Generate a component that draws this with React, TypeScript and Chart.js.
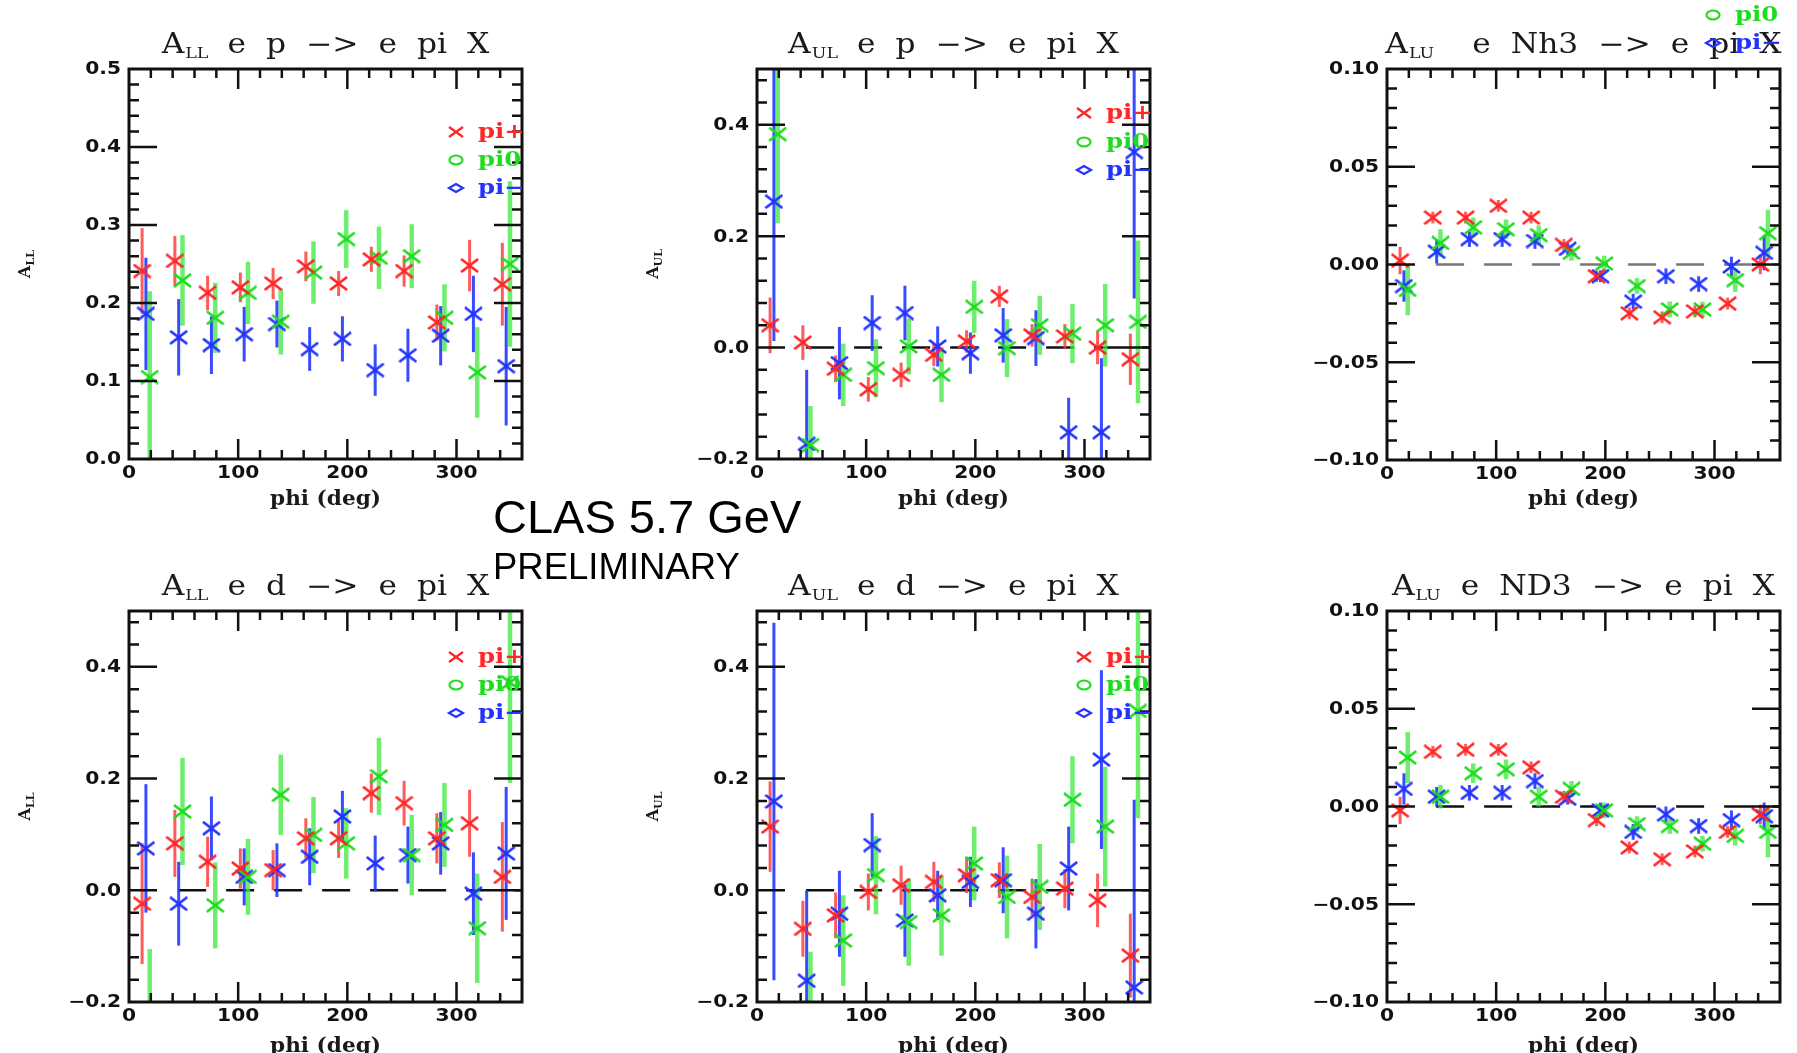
import React, { useEffect, useRef } from "react";
import { Chart, registerables } from "chart.js";

Chart.register(...registerables);

// ---------------- data ----------------
// phi positions (deg) of the three pion samples (each slightly offset within a 30-deg bin)
const phiPiPlus = [12, 42, 72, 102, 132, 162, 192, 222, 252, 282, 312, 342];
const phiPiMinus = [15.5, 45.5, 75.5, 105.5, 135.5, 165.5, 195.5, 225.5, 255.5, 285.5, 315.5, 345.5];
const phiPiZero = [19, 49, 79, 109, 139, 169, 199, 229, 259, 289, 319, 349];

const xTickValues = [0, 100, 200, 300];
const yTicksAllEp = [0, 0.1, 0.2, 0.3, 0.4, 0.5];
const yTicksAsym = [-0.2, 0, 0.2, 0.4];
const yTicksAlu = [-0.1, -0.05, 0, 0.05, 0.1];
const legendLabels = ["pi+", "pi0", "pi\u2212"];

// A_LL  e p -> e pi X
const allEpPiPlus = [0.241, 0.254, 0.213, 0.22, 0.225, 0.247, 0.225, 0.256, 0.241, 0.175, 0.248, 0.224];
const allEpPiPlusErr = [0.055, 0.032, 0.022, 0.019, 0.02, 0.019, 0.016, 0.016, 0.02, 0.023, 0.033, 0.053];
const allEpPiZero = [0.105, 0.229, 0.181, 0.213, 0.176, 0.239, 0.282, 0.258, 0.26, 0.181, 0.111, 0.25];
const allEpPiZeroErr = [0.11, 0.058, 0.045, 0.04, 0.042, 0.04, 0.037, 0.04, 0.041, 0.043, 0.058, 0.106];
const allEpPiMinus = [0.186, 0.156, 0.146, 0.16, 0.173, 0.141, 0.154, 0.114, 0.133, 0.158, 0.186, 0.119];
const allEpPiMinusErr = [0.072, 0.049, 0.037, 0.035, 0.03, 0.028, 0.029, 0.033, 0.034, 0.038, 0.049, 0.076];

// A_UL  e p -> e pi X
const aulEpPiPlus = [0.04, 0.009, -0.038, -0.075, -0.049, -0.013, 0.011, 0.092, 0.022, 0.02, 0.0, -0.021];
const aulEpPiPlusErr = [0.05, 0.031, 0.024, 0.022, 0.022, 0.02, 0.02, 0.019, 0.02, 0.022, 0.03, 0.046];
const aulEpPiZero = [0.383, -0.175, -0.049, -0.037, 0.002, -0.049, 0.073, -0.001, 0.04, 0.025, 0.04, 0.046];
const aulEpPiZeroErr = [0.16, 0.07, 0.056, 0.052, 0.05, 0.049, 0.047, 0.052, 0.053, 0.053, 0.074, 0.146];
const aulEpPiMinus = [0.262, -0.173, -0.028, 0.044, 0.062, 0.002, -0.01, 0.022, 0.017, -0.152, -0.152, 0.351];
const aulEpPiMinusErr = [0.25, 0.133, 0.065, 0.05, 0.049, 0.036, 0.037, 0.049, 0.05, 0.062, 0.133, 0.263];

// A_LU  e NH3 -> e pi X
const aluNh3PiPlus = [0.002, 0.024, 0.024, 0.03, 0.024, 0.01, -0.006, -0.025, -0.027, -0.024, -0.02, 0.0];
const aluNh3PiPlusErr = [0.007, 0.003, 0.003, 0.003, 0.003, 0.003, 0.003, 0.003, 0.003, 0.003, 0.003, 0.005];
const aluNh3PiZero = [-0.013, 0.011, 0.019, 0.018, 0.015, 0.006, 0.0005, -0.011, -0.023, -0.023, -0.008, 0.016];
const aluNh3PiZeroErr = [0.013, 0.007, 0.005, 0.005, 0.005, 0.004, 0.004, 0.004, 0.004, 0.004, 0.006, 0.012];
const aluNh3PiMinus = [-0.011, 0.0065, 0.013, 0.013, 0.012, 0.008, -0.006, -0.019, -0.006, -0.01, -0.001, 0.006];
const aluNh3PiMinusErr = [0.008, 0.006, 0.004, 0.004, 0.004, 0.003, 0.003, 0.004, 0.004, 0.004, 0.005, 0.009];

// A_LL  e d -> e pi X
const allEdPiPlus = [-0.024, 0.084, 0.051, 0.039, 0.036, 0.093, 0.093, 0.174, 0.156, 0.093, 0.12, 0.024];
const allEdPiPlusErr = [0.108, 0.06, 0.045, 0.036, 0.036, 0.036, 0.035, 0.035, 0.04, 0.045, 0.06, 0.098];
const allEdPiZero = [-0.26, 0.141, -0.027, 0.024, 0.171, 0.099, 0.084, 0.204, 0.063, 0.117, -0.068, 0.372];
const allEdPiZeroErr = [0.155, 0.096, 0.077, 0.068, 0.072, 0.068, 0.063, 0.069, 0.072, 0.075, 0.098, 0.18];
const allEdPiMinus = [0.075, -0.024, 0.111, 0.024, 0.036, 0.06, 0.132, 0.048, 0.063, 0.084, -0.006, 0.066];
const allEdPiMinusErr = [0.115, 0.075, 0.057, 0.051, 0.048, 0.051, 0.046, 0.05, 0.051, 0.056, 0.074, 0.119];

// A_UL  e d -> e pi X
const aulEdPiPlus = [0.114, -0.069, -0.045, -0.003, 0.009, 0.015, 0.027, 0.018, -0.012, 0.003, -0.018, -0.117];
const aulEdPiPlusErr = [0.081, 0.05, 0.041, 0.033, 0.035, 0.036, 0.032, 0.032, 0.033, 0.035, 0.048, 0.075];
const aulEdPiZero = [-0.36, -0.25, -0.09, 0.027, -0.057, -0.045, 0.048, -0.012, 0.006, 0.162, 0.114, 0.321];
const aulEdPiZeroErr = [0.1, 0.14, 0.081, 0.07, 0.078, 0.072, 0.066, 0.074, 0.077, 0.078, 0.107, 0.192];
const aulEdPiMinus = [0.159, -0.162, -0.042, 0.081, -0.054, -0.009, 0.015, 0.018, -0.042, 0.039, 0.234, -0.174];
const aulEdPiMinusErr = [0.32, 0.162, 0.077, 0.057, 0.065, 0.044, 0.045, 0.059, 0.062, 0.075, 0.16, 0.336];

// A_LU  e ND3 -> e pi X
const aluNd3PiPlus = [-0.002, 0.028, 0.029, 0.029, 0.02, 0.005, -0.007, -0.021, -0.027, -0.023, -0.013, -0.004];
const aluNd3PiPlusErr = [0.007, 0.003, 0.003, 0.003, 0.003, 0.003, 0.003, 0.003, 0.003, 0.003, 0.003, 0.005];
const aluNd3PiZero = [0.025, 0.005, 0.017, 0.019, 0.005, 0.009, -0.002, -0.009, -0.01, -0.019, -0.015, -0.013];
const aluNd3PiZeroErr = [0.013, 0.006, 0.005, 0.005, 0.005, 0.004, 0.004, 0.004, 0.004, 0.004, 0.005, 0.013];
const aluNd3PiMinus = [0.009, 0.005, 0.007, 0.007, 0.013, 0.004, -0.002, -0.013, -0.004, -0.01, -0.007, -0.005];
const aluNd3PiMinusErr = [0.008, 0.005, 0.004, 0.004, 0.004, 0.003, 0.004, 0.004, 0.004, 0.004, 0.005, 0.007];

// ---------------- styles / layout ----------------
const SERIES = [
  { phi: phiPiPlus, color: "#ff2626", err: "rgba(255,55,55,0.82)", errW: 3 },
  { phi: phiPiZero, color: "#1edc1e", err: "rgba(60,232,60,0.75)", errW: 4.5 },
  { phi: phiPiMinus, color: "#2233ff", err: "rgba(35,55,255,0.9)", errW: 3 },
];

type PanelDef = {
  id: string;
  left: number; top: number; width: number; height: number;
  area: { left: number; top: number; right: number; bottom: number };
  yMin: number; yMax: number; yTicks: number[]; yDecimals: number;
  yMinorStep: number; yMajorStep: number;
  titleSub: string; titleTokens: string[]; titleFirstGap: number;
  yLabelSub: string | null;
  xLabelOffset: number;
  legendX: number; legendY: number[] | null;
  zeroColor: string | null;
  values: number[][]; errors: number[][];
};

const tokensEp = ["e", "p", "\u2212>", "e", "pi", "X"];
const tokensEd = ["e", "d", "\u2212>", "e", "pi", "X"];

const PANELS: PanelDef[] = [
  {
    id: "p1", left: 0, top: 0, width: 560, height: 520,
    area: { left: 129, top: 69, right: 522, bottom: 459 },
    yMin: 0, yMax: 0.5, yTicks: yTicksAllEp, yDecimals: 1, yMinorStep: 0.02, yMajorStep: 0.1,
    titleSub: "LL", titleTokens: tokensEp, titleFirstGap: 19, yLabelSub: "LL", xLabelOffset: 41,
    legendX: 456, legendY: [132, 160, 188], zeroColor: null,
    values: [allEpPiPlus, allEpPiZero, allEpPiMinus],
    errors: [allEpPiPlusErr, allEpPiZeroErr, allEpPiMinusErr],
  },
  {
    id: "p2", left: 600, top: 0, width: 580, height: 520,
    area: { left: 157, top: 69, right: 550, bottom: 459 },
    yMin: -0.2, yMax: 0.5, yTicks: yTicksAsym, yDecimals: 1, yMinorStep: 0.04, yMajorStep: 0.2,
    titleSub: "UL", titleTokens: tokensEp, titleFirstGap: 19, yLabelSub: "UL", xLabelOffset: 41,
    legendX: 484, legendY: [113, 142, 170], zeroColor: "#111",
    values: [aulEpPiPlus, aulEpPiZero, aulEpPiMinus],
    errors: [aulEpPiPlusErr, aulEpPiZeroErr, aulEpPiMinusErr],
  },
  {
    id: "p3", left: 1200, top: 0, width: 597, height: 520,
    area: { left: 187, top: 69, right: 580, bottom: 460 },
    yMin: -0.1, yMax: 0.1, yTicks: yTicksAlu, yDecimals: 2, yMinorStep: 0.01, yMajorStep: 0.05,
    titleSub: "LU", titleTokens: ["e", "Nh3", "\u2212>", "e", "pi", "X"], titleFirstGap: 38, yLabelSub: null, xLabelOffset: 40,
    legendX: 513, legendY: [-13, 15, 43], zeroColor: "#777",
    values: [aluNh3PiPlus, aluNh3PiZero, aluNh3PiMinus],
    errors: [aluNh3PiPlusErr, aluNh3PiZeroErr, aluNh3PiMinusErr],
  },
  {
    id: "p4", left: 0, top: 530, width: 560, height: 523,
    area: { left: 129, top: 81, right: 522, bottom: 472 },
    yMin: -0.2, yMax: 0.5, yTicks: yTicksAsym, yDecimals: 1, yMinorStep: 0.04, yMajorStep: 0.2,
    titleSub: "LL", titleTokens: tokensEd, titleFirstGap: 19, yLabelSub: "LL", xLabelOffset: 45,
    legendX: 456, legendY: [127, 155, 183], zeroColor: "#111",
    values: [allEdPiPlus, allEdPiZero, allEdPiMinus],
    errors: [allEdPiPlusErr, allEdPiZeroErr, allEdPiMinusErr],
  },
  {
    id: "p5", left: 600, top: 530, width: 580, height: 523,
    area: { left: 157, top: 81, right: 550, bottom: 472 },
    yMin: -0.2, yMax: 0.5, yTicks: yTicksAsym, yDecimals: 1, yMinorStep: 0.04, yMajorStep: 0.2,
    titleSub: "UL", titleTokens: tokensEd, titleFirstGap: 19, yLabelSub: "UL", xLabelOffset: 45,
    legendX: 484, legendY: [127, 155, 183], zeroColor: "#111",
    values: [aulEdPiPlus, aulEdPiZero, aulEdPiMinus],
    errors: [aulEdPiPlusErr, aulEdPiZeroErr, aulEdPiMinusErr],
  },
  {
    id: "p6", left: 1200, top: 530, width: 597, height: 523,
    area: { left: 187, top: 81, right: 580, bottom: 472 },
    yMin: -0.1, yMax: 0.1, yTicks: yTicksAlu, yDecimals: 2, yMinorStep: 0.01, yMajorStep: 0.05,
    titleSub: "LU", titleTokens: ["e", "ND3", "\u2212>", "e", "pi", "X"], titleFirstGap: 20, yLabelSub: null, xLabelOffset: 45,
    legendX: 513, legendY: null, zeroColor: "#111",
    values: [aluNd3PiPlus, aluNd3PiZero, aluNd3PiMinus],
    errors: [aluNd3PiPlusErr, aluNd3PiZeroErr, aluNd3PiMinusErr],
  },
];

const TICK_FONT = "bold 17px 'DejaVu Sans', sans-serif";
const SERIF = "'DejaVu Serif', serif";
const TICK_STRETCH = 1.19;
const TITLE_STRETCH = 1.16;

function fmtTick(v: number, d: number) {
  const s = Math.abs(v) < 1e-9 ? (0).toFixed(d) : v.toFixed(d);
  return s.replace("-", "\u2212");
}

function stretchedText(ctx: CanvasRenderingContext2D, text: string, x: number, y: number, sx: number) {
  ctx.save();
  ctx.translate(x, y);
  ctx.scale(sx, 1);
  ctx.fillText(text, 0, 0);
  ctx.restore();
}

function makeCross(color: string) {
  const c = document.createElement("canvas");
  c.width = 19;
  c.height = 15;
  const g = c.getContext("2d")!;
  g.strokeStyle = color;
  g.lineWidth = 2.6;
  g.beginPath();
  g.moveTo(1, 1);
  g.lineTo(18, 14);
  g.moveTo(18, 1);
  g.lineTo(1, 14);
  g.stroke();
  return c;
}

function decoPlugin(p: PanelDef) {
  return {
    id: "deco_" + p.id,
    beforeDatasetsDraw(chart: any) {
      const { ctx, chartArea: a, scales } = chart;
      const xs = scales.x;
      const ys = scales.y;
      ctx.save();
      ctx.beginPath();
      ctx.rect(a.left, a.top, a.right - a.left, a.bottom - a.top);
      ctx.clip();
      if (p.zeroColor) {
        const y0 = ys.getPixelForValue(0);
        ctx.strokeStyle = p.zeroColor;
        ctx.lineWidth = 2.5;
        ctx.setLineDash([28, 20]);
        ctx.beginPath();
        ctx.moveTo(xs.getPixelForValue(45), y0);
        ctx.lineTo(a.right, y0);
        ctx.stroke();
        ctx.setLineDash([]);
      }
      chart.data.datasets.forEach((ds: any) => {
        ctx.strokeStyle = ds.errColor;
        ctx.lineWidth = ds.errWidth;
        ds.data.forEach((pt: any, i: number) => {
          const e = ds.errors[i];
          const px = xs.getPixelForValue(pt.x);
          ctx.beginPath();
          ctx.moveTo(px, ys.getPixelForValue(pt.y - e));
          ctx.lineTo(px, ys.getPixelForValue(pt.y + e));
          ctx.stroke();
        });
      });
      ctx.restore();
    },
    afterDatasetsDraw(chart: any) {
      const { ctx, chartArea: a, scales } = chart;
      const xs = scales.x;
      const ys = scales.y;
      ctx.save();
      ctx.strokeStyle = "#111";
      ctx.lineWidth = 2.5;
      ctx.beginPath();
      for (let v = 20; v < 359; v += 20) {
        const px = xs.getPixelForValue(v);
        const len = v % 100 === 0 ? 20 : 9;
        ctx.moveTo(px, a.bottom);
        ctx.lineTo(px, a.bottom - len);
        ctx.moveTo(px, a.top);
        ctx.lineTo(px, a.top + len);
      }
      const n = Math.round((p.yMax - p.yMin) / p.yMinorStep);
      for (let i = 1; i < n; i++) {
        const v = p.yMin + i * p.yMinorStep;
        const r = v / p.yMajorStep;
        const major = Math.abs(r - Math.round(r)) < 1e-6;
        const py = ys.getPixelForValue(v);
        const len = major ? 28 : 10;
        ctx.moveTo(a.left, py);
        ctx.lineTo(a.left + len, py);
        ctx.moveTo(a.right, py);
        ctx.lineTo(a.right - len, py);
      }
      ctx.stroke();
      ctx.lineWidth = 3;
      ctx.strokeRect(a.left, a.top, a.right - a.left, a.bottom - a.top);
      ctx.restore();
    },
    afterDraw(chart: any) {
      const { ctx, chartArea: a, scales } = chart;
      const xs = scales.x;
      const ys = scales.y;
      const cx = (a.left + a.right) / 2;

      // tick labels (positions from the chart's own scales)
      ctx.save();
      ctx.fillStyle = "#111";
      ctx.font = TICK_FONT;
      ctx.textBaseline = "middle";
      ctx.textAlign = "center";
      xs.ticks.forEach((t: any) => {
        stretchedText(ctx, String(t.value), xs.getPixelForValue(t.value), a.bottom + 15, TICK_STRETCH);
      });
      ctx.textAlign = "right";
      ys.ticks.forEach((t: any) => {
        stretchedText(ctx, fmtTick(t.value, p.yDecimals), a.left - 8, ys.getPixelForValue(t.value) + 1, TICK_STRETCH);
      });
      ctx.restore();

      // title
      ctx.save();
      ctx.fillStyle = "#1a1a1a";
      ctx.textAlign = "left";
      ctx.textBaseline = "alphabetic";
      const mainFont = `27px ${SERIF}`;
      const subFont = `15px ${SERIF}`;
      ctx.font = mainFont;
      const wA = ctx.measureText("A").width * TITLE_STRETCH;
      const tw = p.titleTokens.map((t) => ctx.measureText(t).width * TITLE_STRETCH);
      ctx.font = subFont;
      const wS = ctx.measureText(p.titleSub).width * TITLE_STRETCH;
      const gap = 20;
      const total = wA + 1 + wS + p.titleFirstGap + tw.reduce((s, w) => s + w, 0) + gap * (tw.length - 1);
      let x = cx - total / 2;
      const base = a.top - 16;
      ctx.font = mainFont;
      stretchedText(ctx, "A", x, base, TITLE_STRETCH);
      x += wA + 1;
      ctx.font = subFont;
      stretchedText(ctx, p.titleSub, x, base + 5, TITLE_STRETCH);
      x += wS + p.titleFirstGap;
      ctx.font = mainFont;
      p.titleTokens.forEach((t, i) => {
        stretchedText(ctx, t, x, base, TITLE_STRETCH);
        x += tw[i] + gap;
      });
      ctx.restore();

      // x axis label
      ctx.save();
      ctx.fillStyle = "#1a1a1a";
      ctx.font = `bold 20px ${SERIF}`;
      ctx.textAlign = "center";
      ctx.textBaseline = "middle";
      stretchedText(ctx, "phi (deg)", cx, a.bottom + p.xLabelOffset, 1.08);
      ctx.restore();

      // y axis label
      if (p.yLabelSub) {
        ctx.save();
        ctx.translate(a.left - 104, (a.top + a.bottom) / 2);
        ctx.rotate(-Math.PI / 2);
        ctx.fillStyle = "#1a1a1a";
        ctx.textAlign = "left";
        ctx.textBaseline = "alphabetic";
        ctx.font = `bold 16px ${SERIF}`;
        const w1 = ctx.measureText("A").width;
        ctx.font = `bold 11px ${SERIF}`;
        const w2 = ctx.measureText(p.yLabelSub).width;
        const x0 = -(w1 + w2) / 2;
        ctx.font = `bold 16px ${SERIF}`;
        ctx.fillText("A", x0, 5);
        ctx.font = `bold 11px ${SERIF}`;
        ctx.fillText(p.yLabelSub, x0 + w1, 9);
        ctx.restore();
      }

      // legend
      if (p.legendY) {
        ctx.save();
        ctx.beginPath();
        ctx.rect(0, 0, a.right + 1, chart.height);
        ctx.clip();
        SERIES.forEach((s, i) => {
          const lx = p.legendX;
          const ly = p.legendY![i];
          ctx.strokeStyle = s.color;
          ctx.lineWidth = 2.2;
          ctx.beginPath();
          if (i === 0) {
            ctx.moveTo(lx - 7, ly - 5);
            ctx.lineTo(lx + 7, ly + 5);
            ctx.moveTo(lx + 7, ly - 5);
            ctx.lineTo(lx - 7, ly + 5);
          } else if (i === 1) {
            ctx.ellipse(lx, ly, 6.5, 4.5, 0, 0, Math.PI * 2);
          } else {
            ctx.moveTo(lx - 7, ly);
            ctx.lineTo(lx, ly - 4);
            ctx.lineTo(lx + 7, ly);
            ctx.lineTo(lx, ly + 4);
            ctx.closePath();
          }
          ctx.stroke();
          ctx.fillStyle = s.color;
          ctx.font = `bold 20px ${SERIF}`;
          ctx.textAlign = "left";
          ctx.textBaseline = "middle";
          stretchedText(ctx, legendLabels[i], lx + 22, ly + 1, 1.22);
        });
        ctx.restore();
      }
    },
  };
}

function buildConfig(p: PanelDef): any {
  const datasets = SERIES.map((s, k) => ({
    label: legendLabels[k],
    data: s.phi.map((x, i) => ({ x, y: p.values[k][i] })),
    errors: p.errors[k],
    errColor: s.err,
    errWidth: s.errW,
    pointStyle: makeCross(s.color),
    pointRadius: 8,
    borderColor: s.color,
    backgroundColor: s.color,
    showLine: false,
  }));
  return {
    type: "scatter",
    data: { datasets },
    options: {
      animation: false,
      responsive: false,
      devicePixelRatio: 1,
      events: [],
      layout: { padding: { left: 0, top: p.area.top, right: p.width - p.area.right, bottom: 0 } },
      plugins: { legend: { display: false }, tooltip: { enabled: false }, title: { display: false } },
      scales: {
        x: {
          type: "linear",
          min: 0,
          max: 360,
          afterFit: (s: any) => { s.height = p.height - p.area.bottom; },
          afterBuildTicks: (s: any) => { s.ticks = xTickValues.map((v) => ({ value: v })); },
          grid: { display: false, drawTicks: false },
          border: { display: false },
          ticks: { display: false },
        },
        y: {
          type: "linear",
          min: p.yMin,
          max: p.yMax,
          afterFit: (s: any) => { s.width = p.area.left; },
          afterBuildTicks: (s: any) => { s.ticks = p.yTicks.map((v) => ({ value: v })); },
          grid: { display: false, drawTicks: false },
          border: { display: false },
          ticks: { display: false },
        },
      },
    },
    plugins: [decoPlugin(p)],
  };
}

function Panel({ p }: { p: PanelDef }) {
  const ref = useRef<HTMLCanvasElement>(null);
  useEffect(() => {
    const chart = new Chart(ref.current!, buildConfig(p));
    return () => chart.destroy();
  }, [p]);
  return (
    <canvas
      ref={ref}
      width={p.width}
      height={p.height}
      style={{ position: "absolute", left: p.left, top: p.top, width: p.width, height: p.height }}
    />
  );
}

export default function App() {
  useEffect(() => {
    document.body.style.overflow = "hidden";
    document.documentElement.style.overflow = "hidden";
  }, []);
  return (
    <div style={{ position: "absolute", left: 0, top: 0, width: 1797, height: 1053, overflow: "hidden", background: "#fff" }}>
      {PANELS.map((p) => (
        <Panel key={p.id} p={p} />
      ))}
      <div
        style={{
          position: "absolute", left: 493, top: 493, fontFamily: "'Liberation Sans', Arial, sans-serif",
          fontSize: 47, lineHeight: "47px", whiteSpace: "nowrap", color: "#000",
        }}
      >
        CLAS 5.7 GeV
      </div>
      <div
        style={{
          position: "absolute", left: 493, top: 549, fontFamily: "'Liberation Sans', Arial, sans-serif",
          fontSize: 36.5, lineHeight: "36.5px", whiteSpace: "nowrap", color: "#000",
        }}
      >
        PRELIMINARY
      </div>
    </div>
  );
}
